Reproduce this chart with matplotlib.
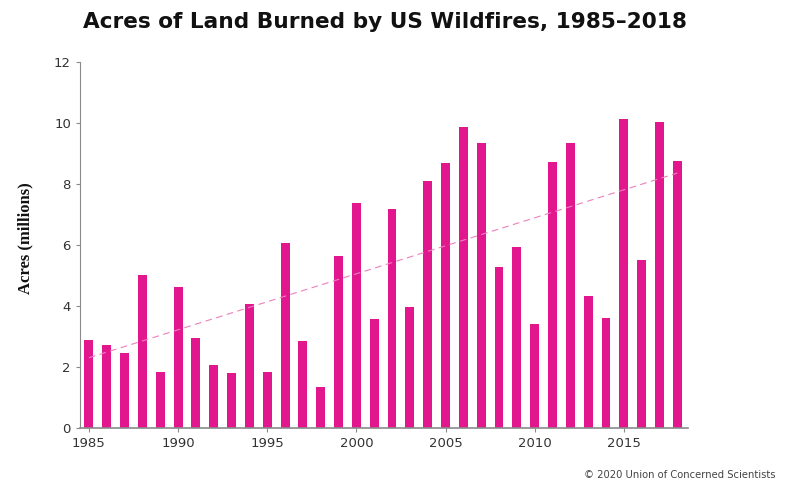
import numpy as np
import matplotlib.pyplot as plt

# Acres burned (millions)
years = list(range(1985, 2019))
acres = [2.90, 2.72, 2.45, 5.01, 1.83, 4.62, 2.95, 2.07, 1.80, 4.07,
         1.84, 6.07, 2.86, 1.33, 5.63, 7.39, 3.57, 7.18, 3.96, 8.10,
         8.69, 9.87, 9.33, 5.29, 5.92, 3.42, 8.71, 9.33, 4.32, 3.60,
         10.13, 5.51, 10.03, 8.77]
x_ticks = [1985, 1990, 1995, 2000, 2005, 2010, 2015]
y_ticks = [0, 2, 4, 6, 8, 10, 12]

bar_color = "#E2178E"
axis_color = "#8a8a8a"
text_color = "#333333"

fig = plt.figure(figsize=(7.98, 4.88), dpi=100)
ax = fig.add_axes([80 / 798, 1 - 428 / 488, (688 - 80) / 798, (428 - 62) / 488])

ax.bar(years, acres, width=0.5, color=bar_color, zorder=2)

# linear trend
coef = np.polyfit(years, acres, 1)
yrs = np.array([years[0], years[-1]])
ax.plot(yrs, np.polyval(coef, yrs), linestyle=(0, (6, 4)), linewidth=0.8,
        color="#EE7FBF", zorder=3)

ax.set_xlim(1984.5, 2018.6)
ax.set_ylim(0, 12)
ax.set_xticks(x_ticks)
ax.set_yticks(y_ticks)

for side in ["top", "right"]:
    ax.spines[side].set_visible(False)
ax.spines["left"].set_color(axis_color)
ax.spines["bottom"].set_color(axis_color)
ax.spines["bottom"].set_linewidth(1.2)
ax.tick_params(axis="both", colors=axis_color, length=3, width=0.8,
               labelcolor=text_color, labelsize=9.5)

ax.set_ylabel("Acres (millions)", family="Liberation Serif", fontweight="bold",
              fontsize=12, color="#111111")
ax.yaxis.set_label_coords(-47 / 608, 0.52)

fig.text(385 / 798, 1 - 22 / 488, "Acres of Land Burned by US Wildfires, 1985\u20132018",
         ha="center", va="center", fontsize=15.6, fontweight="bold",
         family="DejaVu Sans", color="#111111")
fig.text(775 / 798, 1 - 475 / 488, "\u00a9 2020 Union of Concerned Scientists",
         ha="right", va="center", fontsize=7.2, color="#444444")

fig.savefig("out.png", dpi=100, facecolor="white")
